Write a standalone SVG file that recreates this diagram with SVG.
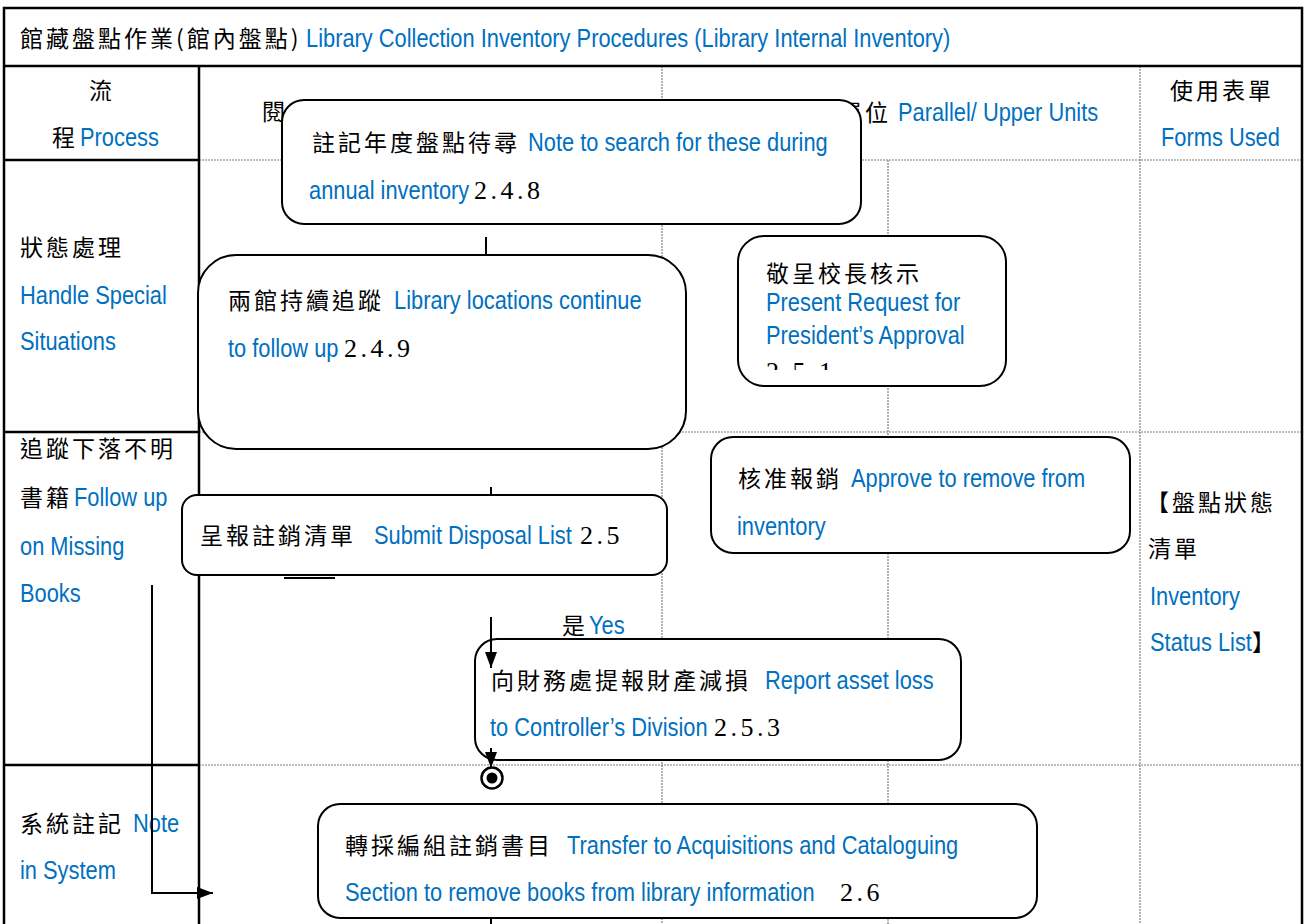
<svg xmlns="http://www.w3.org/2000/svg" width="1306" height="924" viewBox="0 0 1306 924">
<style>
  .solid { stroke:#000; stroke-width:2.5; fill:none; }
  .dash { stroke:#7f7f7f; stroke-width:1.2; stroke-dasharray:2 1; fill:none; }
  .node { fill:#fff; stroke:#000; stroke-width:2; }
  .conn { stroke:#000; stroke-width:2; fill:none; }
  .cjk { font-family:"Noto Sans CJK TC","Noto Sans CJK SC",sans-serif; font-size:23px; letter-spacing:3px; fill:#000; }
  .en { font-family:"Liberation Sans",Arial,sans-serif; font-size:26px; fill:#0070C0; }
  .num { font-family:"Liberation Serif",serif; font-size:26px; letter-spacing:3.5px; fill:#000; }
</style>
<defs>
  <marker id="arr" viewBox="0 0 16 12" refX="16" refY="6" markerWidth="16" markerHeight="12" markerUnits="userSpaceOnUse" orient="auto">
    <path d="M0,0 L16,6 L0,12 z" fill="#000"/>
  </marker>
  <clipPath id="clip251"><rect x="740" y="340" width="260" height="30"/></clipPath>
</defs>
<rect width="1306" height="924" fill="#fff"/>

<g id="table">
  <line class="dash" x1="199" y1="160" x2="1302" y2="160"/>
  <line class="dash" x1="199" y1="432" x2="1302" y2="432"/>
  <line class="dash" x1="199" y1="765" x2="1302" y2="765"/>
  <line class="dash" x1="662" y1="66" x2="662" y2="924"/>
  <line class="dash" x1="888" y1="160" x2="888" y2="924"/>
  <line class="dash" x1="1140" y1="66" x2="1140" y2="924"/>
  <rect class="solid" x="4" y="8" width="1298" height="930"/>
  <line class="solid" x1="4" y1="66" x2="1302" y2="66"/>
  <line class="solid" x1="199" y1="66" x2="199" y2="924"/>
  <line class="solid" x1="4" y1="160" x2="199" y2="160"/>
  <line class="solid" x1="4" y1="432" x2="199" y2="432"/>
  <line class="solid" x1="4" y1="765" x2="199" y2="765"/>
</g>

<g id="labels">
  <text class="cjk" x="20" y="47">館藏盤點作業(館內盤點)</text>
  <text class="en" transform="translate(306 47) scale(.84 1)">Library Collection Inventory Procedures (Library Internal Inventory)</text>
  <text class="cjk" x="89" y="99">流</text>
  <text class="cjk" x="52" y="146">程</text>
  <text class="en" transform="translate(80 146) scale(.84 1)">Process</text>
  <text class="cjk" x="262" y="120">閱</text>
  <text class="cjk" x="839" y="121">單位</text>
  <text class="en" transform="translate(898 121) scale(.84 1)">Parallel/ Upper Units</text>
  <text class="cjk" x="1170" y="99">使用表單</text>
  <text class="en" transform="translate(1161 146) scale(.84 1)">Forms Used</text>
  <text class="cjk" x="20" y="256">狀態處理</text>
  <text class="en" transform="translate(20 304) scale(.84 1)">Handle Special</text>
  <text class="en" transform="translate(20 350) scale(.84 1)">Situations</text>
  <text class="cjk" x="20" y="457">追蹤下落不明</text>
  <text class="cjk" x="20" y="506">書籍</text>
  <text class="en" transform="translate(74 506) scale(.84 1)">Follow up</text>
  <text class="en" transform="translate(20 555) scale(.84 1)">on Missing</text>
  <text class="en" transform="translate(20 602) scale(.84 1)">Books</text>
  <text class="cjk" x="20" y="832">系統註記</text>
  <text class="en" transform="translate(133 832) scale(.84 1)">Note</text>
  <text class="en" transform="translate(20 879) scale(.84 1)">in System</text>
  <text class="cjk" x="1146" y="511">【盤點狀態</text>
  <text class="cjk" x="1148" y="557">清單</text>
  <text class="en" transform="translate(1150 605) scale(.84 1)">Inventory</text>
  <text class="en" transform="translate(1150 651) scale(.84 1)">Status List</text>
  <text class="cjk" x="1252" y="651">】</text>
  <text class="cjk" x="562" y="634">是</text>
  <text class="en" transform="translate(589 634) scale(.84 1)">Yes</text>
</g>

<g id="n1">
  <rect class="node" x="282" y="100" width="579" height="124" rx="22"/>
  <text class="cjk" x="312" y="151">註記年度盤點待尋</text>
  <text class="en" transform="translate(528 151) scale(.84 1)">Note to search for these during</text>
  <text class="en" transform="translate(309 199) scale(.84 1)">annual inventory</text>
  <text class="num" x="474" y="199">2.4.8</text>
</g>

<g id="n2">
  <rect class="node" x="198" y="255" width="488" height="194" rx="38"/>
  <text class="cjk" x="228" y="309">兩館持續追蹤</text>
  <text class="en" transform="translate(394 309) scale(.84 1)">Library locations continue</text>
  <text class="en" transform="translate(228 357) scale(.84 1)">to follow up</text>
  <text class="num" x="344" y="357">2.4.9</text>
</g>

<g id="n3">
  <rect class="node" x="738" y="236" width="268" height="150" rx="26"/>
  <text class="cjk" x="766" y="282">敬呈校長核示</text>
  <text class="en" transform="translate(766 311) scale(.84 1)">Present Request for</text>
  <text class="en" transform="translate(766 344) scale(.84 1)">President’s Approval</text>
  <text class="num" x="766" y="380" clip-path="url(#clip251)">2.5.1</text>
</g>

<g id="n4">
  <rect class="node" x="711" y="437" width="419" height="116" rx="22"/>
  <text class="cjk" x="738" y="487">核准報銷</text>
  <text class="en" transform="translate(851 487) scale(.84 1)">Approve to remove from</text>
  <text class="en" transform="translate(737 535) scale(.84 1)">inventory</text>
</g>

<g id="n5">
  <rect class="node" x="182" y="495" width="485" height="80" rx="15"/>
  <text class="cjk" x="200" y="544">呈報註銷清單</text>
  <text class="en" transform="translate(374 544) scale(.84 1)">Submit Disposal List</text>
  <text class="num" x="580" y="544">2.5</text>
</g>

<g id="n6">
  <rect class="node" x="475" y="639" width="486" height="121" rx="22"/>
  <text class="cjk" x="491" y="689">向財務處提報財產減損</text>
  <text class="en" transform="translate(765 689) scale(.84 1)">Report asset loss</text>
  <text class="en" transform="translate(490 736) scale(.84 1)">to Controller’s Division</text>
  <text class="num" x="714" y="736">2.5.3</text>
</g>

<g id="n7">
  <rect class="node" x="318" y="804" width="719" height="114" rx="22"/>
  <text class="cjk" x="345" y="854">轉採編組註銷書目</text>
  <text class="en" transform="translate(567 854) scale(.84 1)">Transfer to Acquisitions and Cataloguing</text>
  <text class="en" transform="translate(345 901) scale(.84 1)">Section to remove books from library information</text>
  <text class="num" x="840" y="901">2.6</text>
</g>

<g id="end">
  <circle cx="492" cy="778" r="10.5" fill="#fff" stroke="#000" stroke-width="2.5"/>
  <circle cx="492" cy="778" r="5.5" fill="#000"/>
</g>

<g id="connectors">
  <line class="conn" x1="486" y1="237" x2="486" y2="255"/>
  <line class="conn" x1="491" y1="487" x2="491" y2="495"/>
  <line class="conn" x1="284" y1="578" x2="335" y2="578"/>
  <line class="conn" x1="491" y1="617" x2="491" y2="668" marker-end="url(#arr)"/>
  <line class="conn" x1="491" y1="748" x2="491" y2="768" marker-end="url(#arr)"/>
  <line class="conn" x1="491" y1="918" x2="491" y2="924"/>
  <polyline class="conn" points="152,585 152,893 213,893" marker-end="url(#arr)"/>
</g>
</svg>
